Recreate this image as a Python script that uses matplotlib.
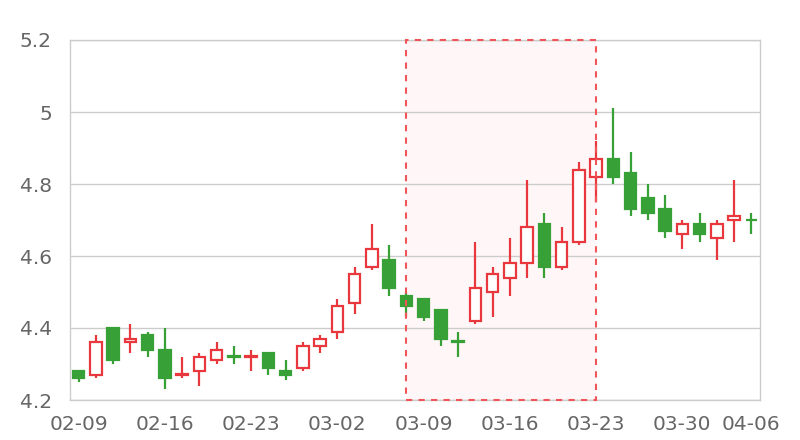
import matplotlib
matplotlib.use("Agg")
import matplotlib.pyplot as plt
from matplotlib.patches import Rectangle

dates = ["02-09", "02-10", "02-11", "02-12", "02-13",
         "02-16", "02-17", "02-18", "02-19", "02-20",
         "02-23", "02-24", "02-25", "02-26", "02-27",
         "03-02", "03-03", "03-04", "03-05", "03-06",
         "03-09", "03-10", "03-11", "03-12", "03-13",
         "03-16", "03-17", "03-18", "03-19", "03-20",
         "03-23", "03-24", "03-25", "03-26", "03-27",
         "03-30", "03-31", "04-01", "04-02", "04-06"]

opens = [4.28, 4.27, 4.40, 4.36, 4.38, 4.34, 4.269, 4.28, 4.31, 4.322,
         4.320, 4.33, 4.28, 4.29, 4.35, 4.39, 4.47, 4.57, 4.59, 4.49,
         4.48, 4.45, 4.363, 4.42, 4.50, 4.54, 4.58, 4.69, 4.57, 4.64,
         4.82, 4.87, 4.83, 4.76, 4.73, 4.66, 4.69, 4.65, 4.70, 4.701]
closes = [4.26, 4.36, 4.31, 4.37, 4.34, 4.26, 4.271, 4.32, 4.34, 4.320,
          4.322, 4.29, 4.27, 4.35, 4.37, 4.46, 4.55, 4.62, 4.51, 4.46,
          4.43, 4.37, 4.361, 4.51, 4.55, 4.58, 4.68, 4.57, 4.64, 4.84,
          4.87, 4.82, 4.73, 4.72, 4.67, 4.69, 4.66, 4.69, 4.71, 4.700]
highs = [4.28, 4.38, 4.40, 4.41, 4.39, 4.40, 4.32, 4.33, 4.36, 4.35,
         4.34, 4.33, 4.31, 4.36, 4.38, 4.48, 4.57, 4.69, 4.63, 4.50,
         4.48, 4.45, 4.39, 4.64, 4.57, 4.65, 4.81, 4.72, 4.68, 4.86,
         4.92, 5.01, 4.89, 4.80, 4.77, 4.70, 4.72, 4.70, 4.81, 4.72]
lows = [4.25, 4.26, 4.30, 4.33, 4.32, 4.23, 4.262, 4.24, 4.30, 4.30,
        4.28, 4.27, 4.255, 4.28, 4.33, 4.37, 4.44, 4.56, 4.49, 4.43,
        4.42, 4.35, 4.32, 4.41, 4.43, 4.49, 4.54, 4.54, 4.56, 4.63,
        4.75, 4.80, 4.71, 4.70, 4.65, 4.62, 4.64, 4.59, 4.64, 4.66]

highlight_start = "03-06"
highlight_end = "03-23"

xtick_labels = ["02-09", "02-16", "02-23", "03-02", "03-09",
                "03-16", "03-23", "03-30", "04-06"]
yticks = [4.2, 4.4, 4.6, 4.8, 5.0, 5.2]
ytick_labels = ["4.2", "4.4", "4.6", "4.8", "5", "5.2"]

RED = "#e8383d"
GREEN = "#37a037"
GRID = "#cccccc"
TEXT = "#666666"

fig = plt.figure(figsize=(8, 4.4), dpi=100)
ax = fig.add_axes([70 / 800, 40 / 440, 690 / 800, 360 / 440])

x = list(range(len(dates)))
width = 0.68

# highlight area
xs = dates.index(highlight_start)
xe = dates.index(highlight_end)
ax.add_patch(Rectangle((xs, 4.2), xe - xs, 1.0, facecolor="#fff7f7",
                       edgecolor="none", zorder=0.5))
ax.add_patch(Rectangle((xs, 4.2), xe - xs, 1.0, facecolor="none",
                       edgecolor="#f0555a", linestyle=(0, (3, 3)),
                       linewidth=1.5, zorder=4, clip_on=False))

for i in x:
    o, c, h, l = opens[i], closes[i], highs[i], lows[i]
    up = c >= o
    col = RED if up else GREEN
    ax.vlines(i, l, h, color=col, linewidth=1.6, zorder=2)
    bottom = min(o, c)
    height = max(abs(c - o), 0.0005)
    ax.bar(i, height, bottom=bottom, width=width,
           facecolor="white" if up else col, edgecolor=col,
           linewidth=1.6, zorder=3)

ax.set_xlim(-0.5, len(dates) - 0.5)
ax.set_ylim(4.2, 5.2)
ax.set_yticks(yticks)
ax.set_yticklabels(ytick_labels)
ax.set_xticks([dates.index(d) for d in xtick_labels])
ax.set_xticklabels(xtick_labels)
ax.tick_params(axis="both", length=0, labelsize=14.5, labelcolor=TEXT)
ax.tick_params(axis="y", pad=13)
ax.tick_params(axis="x", pad=11)
ax.yaxis.grid(True, color=GRID, linewidth=1)
ax.set_axisbelow(True)
for s in ax.spines.values():
    s.set_color(GRID)
    s.set_linewidth(1)

fig.savefig("out.png", dpi=100)
